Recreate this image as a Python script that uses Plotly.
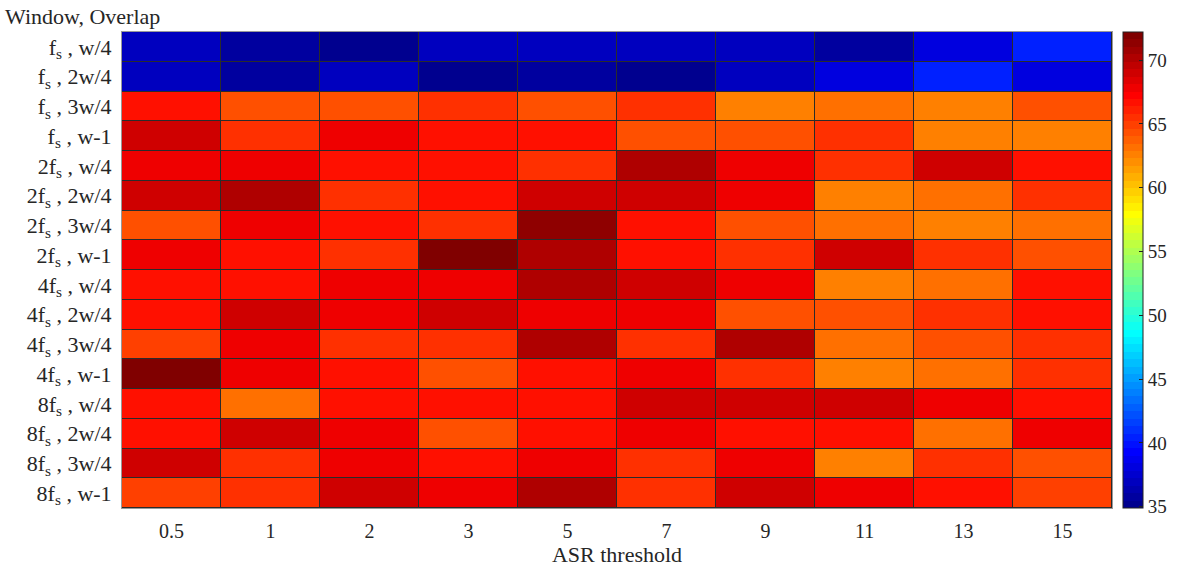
import plotly.graph_objects as go

asr_thresholds = ['0.5', '1', '2', '3', '5', '7', '9', '11', '13', '15']
window_overlap = [
    'f<sub>s</sub> , w/4', 'f<sub>s</sub> , 2w/4', 'f<sub>s</sub> , 3w/4', 'f<sub>s</sub> , w-1',
    '2f<sub>s</sub> , w/4', '2f<sub>s</sub> , 2w/4', '2f<sub>s</sub> , 3w/4', '2f<sub>s</sub> , w-1',
    '4f<sub>s</sub> , w/4', '4f<sub>s</sub> , 2w/4', '4f<sub>s</sub> , 3w/4', '4f<sub>s</sub> , w-1',
    '8f<sub>s</sub> , w/4', '8f<sub>s</sub> , 2w/4', '8f<sub>s</sub> , 3w/4', '8f<sub>s</sub> , w-1',
]

row_fs_w4 = [36.9, 35.8, 35.2, 36.9, 36.9, 36.9, 36.9, 35.8, 38.1, 40.4]
row_fs_2w4 = [36.9, 35.8, 36.9, 35.2, 35.8, 35.2, 36.9, 38.1, 40.4, 38.1]
row_fs_3w4 = [66.8, 64.4, 64.4, 65.6, 64.4, 65.6, 62.7, 63.3, 62.7, 64.4]
row_fs_w1 = [69.1, 65.6, 67.9, 66.8, 66.8, 64.4, 64.4, 65.6, 62.7, 62.7]
row_2fs_w4 = [67.9, 67.9, 66.8, 66.8, 65.6, 70.2, 67.9, 65.6, 69.1, 66.8]
row_2fs_2w4 = [69.1, 70.2, 65.6, 66.8, 69.1, 69.1, 67.9, 62.7, 63.3, 65.6]
row_2fs_3w4 = [64.4, 67.9, 66.8, 65.6, 71.4, 66.8, 64.4, 63.3, 62.7, 63.3]
row_2fs_w1 = [67.9, 66.8, 65.6, 72.0, 70.2, 66.8, 65.6, 69.1, 65.6, 64.4]
row_4fs_w4 = [66.8, 66.8, 67.9, 67.9, 70.2, 69.1, 67.9, 62.7, 63.3, 66.8]
row_4fs_2w4 = [66.8, 69.1, 67.9, 69.1, 67.9, 67.9, 64.4, 64.4, 65.6, 66.8]
row_4fs_3w4 = [65.0, 67.9, 65.6, 65.6, 70.2, 65.6, 70.2, 63.3, 64.4, 65.6]
row_4fs_w1 = [72.0, 67.9, 66.8, 64.4, 66.8, 67.9, 65.6, 62.7, 63.3, 65.6]
row_8fs_w4 = [66.8, 63.3, 66.8, 66.8, 66.8, 69.1, 69.1, 69.1, 67.9, 66.8]
row_8fs_2w4 = [66.8, 69.1, 67.9, 64.4, 66.8, 67.9, 66.8, 66.8, 63.3, 67.9]
row_8fs_3w4 = [69.1, 65.6, 67.9, 66.8, 67.9, 65.6, 67.9, 62.7, 65.6, 64.4]
row_8fs_w1 = [65.0, 65.6, 69.1, 67.9, 70.2, 65.6, 69.1, 67.9, 66.8, 65.0]

z = [row_fs_w4, row_fs_2w4, row_fs_3w4, row_fs_w1,
     row_2fs_w4, row_2fs_2w4, row_2fs_3w4, row_2fs_w1,
     row_4fs_w4, row_4fs_2w4, row_4fs_3w4, row_4fs_w1,
     row_8fs_w4, row_8fs_2w4, row_8fs_3w4, row_8fs_w1]

cbar_ticks = [35, 40, 45, 50, 55, 60, 65, 70]


def jet64():
    cols = []
    for i in range(1, 65):
        if i <= 24:
            r = 0.0
        elif i <= 40:
            r = (i - 24) / 16
        elif i <= 56:
            r = 1.0
        else:
            r = 1 - (i - 56) / 16
        if i <= 8:
            g = 0.0
        elif i <= 24:
            g = (i - 8) / 16
        elif i <= 40:
            g = 1.0
        elif i <= 56:
            g = 1 - (i - 40) / 16
        else:
            g = 0.0
        if i <= 8:
            b = 0.5 + i / 16
        elif i <= 24:
            b = 1.0
        elif i <= 40:
            b = 1 - (i - 24) / 16
        else:
            b = 0.0
        cols.append('rgb(%d,%d,%d)' % (round(r * 255), round(g * 255), round(b * 255)))
    scale = []
    n = len(cols)
    for k, c in enumerate(cols):
        scale.append([k / n, c])
        scale.append([(k + 1) / n, c])
    return scale


FONT = 'Liberation Serif'
TXT = '#262626'

fig = go.Figure(go.Heatmap(
    z=z, x=asr_thresholds, y=window_overlap,
    colorscale=jet64(), zmin=34.9, zmax=72.2,
    xgap=1, ygap=1, hoverinfo='skip',
    colorbar=dict(
        x=1 + 11 / 990, xanchor='left', xpad=0, ypad=0, y=0.5, yanchor='middle',
        len=1, lenmode='fraction', thickness=20, thicknessmode='pixels',
        outlinecolor='#222', outlinewidth=1,
        tickvals=cbar_ticks, ticks='inside', ticklen=4, tickcolor='#222',
        tickfont=dict(family=FONT, size=19, color=TXT),
    ),
))

fig.update_layout(
    width=1191, height=570,
    margin=dict(l=122, r=79, t=32, b=62),
    paper_bgcolor='white', plot_bgcolor='#2b2b2b',
    font=dict(family=FONT, color=TXT),
    annotations=[dict(text='Window, Overlap', x=0, y=1, xref='paper', yref='paper',
                      xshift=-119, yshift=1, xanchor='left', yanchor='bottom', showarrow=False,
                      font=dict(family=FONT, size=22, color=TXT))],
)
fig.update_xaxes(
    title=dict(text='ASR threshold', font=dict(family=FONT, size=22), standoff=2),
    tickfont=dict(family=FONT, size=20), ticks='', ticklabelstandoff=5,
    showline=True, linecolor='#999', mirror=True, showgrid=False, automargin=False,
)
fig.update_yaxes(
    autorange='reversed', tickfont=dict(family=FONT, size=22), ticks='', ticklabelstandoff=5,
    showline=True, linecolor='#999', mirror=True, showgrid=False, automargin=False,
)

fig.write_html('out.html', config={'displayModeBar': False},
               post_script="document.body.style.margin='0';")
